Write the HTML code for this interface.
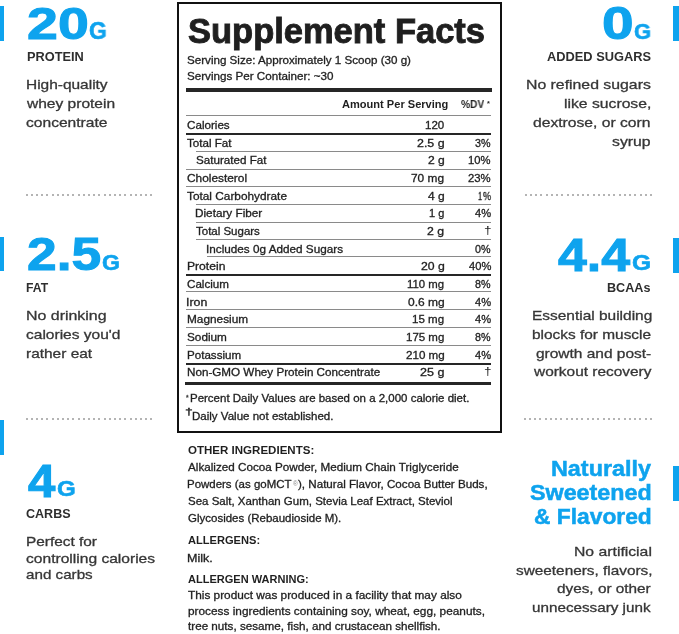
<!DOCTYPE html>
<html><head><meta charset="utf-8"><title>Supplement Facts</title>
<style>
html,body{margin:0;padding:0;background:#fff;}
body{width:679px;height:634px;position:relative;overflow:hidden;font-family:"Liberation Sans", Arial, sans-serif;}
.t{position:absolute;white-space:nowrap;transform-origin:0 0;will-change:transform;}
.s{-webkit-text-stroke:0.3px currentColor;}
.r{position:absolute;}
.d{position:absolute;width:2px;height:2px;background:#b4b4b4;}
</style></head><body>
<div class="t" style="left:26.88px;top:0.80px;font-size:45.08px;line-height:45.08px;color:#0ea3ee;font-weight:bold;-webkit-text-stroke:1.0px #0ea3ee;transform:scaleX(1.2316);">20</div>
<div class="t" style="left:88.61px;top:20.10px;font-size:23.51px;line-height:23.51px;color:#0ea3ee;font-weight:bold;-webkit-text-stroke:0.6px #0ea3ee;transform:scaleX(0.9759);">G</div>
<div class="t" style="left:26.56px;top:50.70px;font-size:12.2px;line-height:12.2px;color:#2e2e2e;font-weight:bold;transform:scaleX(1.0491);">PROTEIN</div>
<div class="t s" style="left:25.94px;top:78.40px;font-size:13.3px;line-height:13.3px;color:#363636;transform:scaleX(1.1620);">High-quality</div>
<div class="t s" style="left:27.12px;top:96.60px;font-size:13.3px;line-height:13.3px;color:#363636;transform:scaleX(1.1685);">whey protein</div>
<div class="t s" style="left:26.01px;top:115.70px;font-size:13.3px;line-height:13.3px;color:#363636;transform:scaleX(1.1722);">concentrate</div>
<div class="t" style="left:26.91px;top:232.18px;font-size:45.91px;line-height:45.91px;color:#0ea3ee;font-weight:bold;-webkit-text-stroke:1.0px #0ea3ee;transform:scaleX(1.1632);">2.5</div>
<div class="t" style="left:102.08px;top:251.90px;font-size:22.53px;line-height:22.53px;color:#0ea3ee;font-weight:bold;-webkit-text-stroke:0.6px #0ea3ee;transform:scaleX(1.0252);">G</div>
<div class="t" style="left:26.20px;top:282.20px;font-size:12.2px;line-height:12.2px;color:#2e2e2e;font-weight:bold;">FAT</div>
<div class="t s" style="left:25.80px;top:308.80px;font-size:13.3px;line-height:13.3px;color:#363636;transform:scaleX(1.1974);">No drinking</div>
<div class="t s" style="left:26.42px;top:327.90px;font-size:13.3px;line-height:13.3px;color:#363636;transform:scaleX(1.1670);">calories you'd</div>
<div class="t s" style="left:26.07px;top:347.00px;font-size:13.3px;line-height:13.3px;color:#363636;transform:scaleX(1.1618);">rather eat</div>
<div class="t" style="left:28.33px;top:457.50px;font-size:46.65px;line-height:46.65px;color:#0ea3ee;font-weight:bold;-webkit-text-stroke:1.0px #0ea3ee;transform:scaleX(1.0536);">4</div>
<div class="t" style="left:57.06px;top:477.70px;font-size:22.53px;line-height:22.53px;color:#0ea3ee;font-weight:bold;-webkit-text-stroke:0.6px #0ea3ee;transform:scaleX(1.0692);">G</div>
<div class="t" style="left:26.49px;top:508.10px;font-size:12.2px;line-height:12.2px;color:#2e2e2e;font-weight:bold;transform:scaleX(1.0296);">CARBS</div>
<div class="t s" style="left:25.84px;top:535.10px;font-size:13.3px;line-height:13.3px;color:#363636;transform:scaleX(1.1574);">Perfect for</div>
<div class="t s" style="left:26.41px;top:551.50px;font-size:13.3px;line-height:13.3px;color:#363636;transform:scaleX(1.1722);">controlling calories</div>
<div class="t s" style="left:26.43px;top:567.50px;font-size:13.3px;line-height:13.3px;color:#363636;transform:scaleX(1.1417);">and carbs</div>
<div class="t" style="left:602.04px;top:0.58px;font-size:45.91px;line-height:45.91px;color:#0ea3ee;font-weight:bold;-webkit-text-stroke:1.0px #0ea3ee;transform:scaleX(1.2394);">0</div>
<div class="t" style="left:633.53px;top:20.20px;font-size:22.95px;line-height:22.95px;color:#0ea3ee;font-weight:bold;-webkit-text-stroke:0.6px #0ea3ee;transform:scaleX(0.9568);">G</div>
<div class="t" style="left:546.58px;top:51.40px;font-size:12.2px;line-height:12.2px;color:#2e2e2e;font-weight:bold;transform:scaleX(1.0516);">ADDED SUGARS</div>
<div class="t s" style="left:526.01px;top:78.00px;font-size:13.3px;line-height:13.3px;color:#363636;transform:scaleX(1.1891);">No refined sugars</div>
<div class="t s" style="left:564.05px;top:97.10px;font-size:13.3px;line-height:13.3px;color:#363636;transform:scaleX(1.1818);">like sucrose,</div>
<div class="t s" style="left:533.41px;top:116.30px;font-size:13.3px;line-height:13.3px;color:#363636;transform:scaleX(1.1777);">dextrose, or corn</div>
<div class="t s" style="left:612.04px;top:135.00px;font-size:13.3px;line-height:13.3px;color:#363636;transform:scaleX(1.1852);">syrup</div>
<div class="t" style="left:558.26px;top:231.70px;font-size:46.08px;line-height:46.08px;color:#0ea3ee;font-weight:bold;-webkit-text-stroke:1.0px #0ea3ee;transform:scaleX(1.1262);">4.4</div>
<div class="t" style="left:632.33px;top:251.70px;font-size:21.97px;line-height:21.97px;color:#0ea3ee;font-weight:bold;-webkit-text-stroke:0.6px #0ea3ee;transform:scaleX(1.1161);">G</div>
<div class="t" style="left:607.37px;top:281.90px;font-size:12.2px;line-height:12.2px;color:#2e2e2e;font-weight:bold;transform:scaleX(1.0333);">BCAAs</div>
<div class="t s" style="left:531.64px;top:309.00px;font-size:13.3px;line-height:13.3px;color:#363636;transform:scaleX(1.1621);">Essential building</div>
<div class="t s" style="left:532.47px;top:328.20px;font-size:13.3px;line-height:13.3px;color:#363636;transform:scaleX(1.1593);">blocks for muscle</div>
<div class="t s" style="left:536.32px;top:346.90px;font-size:13.3px;line-height:13.3px;color:#363636;transform:scaleX(1.1638);">growth and post-</div>
<div class="t s" style="left:533.52px;top:365.30px;font-size:13.3px;line-height:13.3px;color:#363636;transform:scaleX(1.1596);">workout recovery</div>
<div class="t" style="left:550.77px;top:458.15px;font-size:21.8px;line-height:21.8px;color:#0ea3ee;font-weight:bold;-webkit-text-stroke:0.5px #0ea3ee;transform:scaleX(1.0718);">Naturally</div>
<div class="t" style="left:529.93px;top:482.25px;font-size:21.8px;line-height:21.8px;color:#0ea3ee;font-weight:bold;-webkit-text-stroke:0.5px #0ea3ee;transform:scaleX(1.0679);">Sweetened</div>
<div class="t" style="left:533.72px;top:506.35px;font-size:21.8px;line-height:21.8px;color:#0ea3ee;font-weight:bold;-webkit-text-stroke:0.5px #0ea3ee;transform:scaleX(1.0456);">&amp; Flavored</div>
<div class="t s" style="left:574.12px;top:545.00px;font-size:13.3px;line-height:13.3px;color:#363636;transform:scaleX(1.1842);">No artificial</div>
<div class="t s" style="left:515.85px;top:563.60px;font-size:13.3px;line-height:13.3px;color:#363636;transform:scaleX(1.1543);">sweeteners, flavors,</div>
<div class="t s" style="left:557.42px;top:582.40px;font-size:13.3px;line-height:13.3px;color:#363636;transform:scaleX(1.1526);">dyes, or other</div>
<div class="t s" style="left:532.38px;top:601.30px;font-size:13.3px;line-height:13.3px;color:#363636;transform:scaleX(1.1455);">unnecessary junk</div>
<div class="t" style="left:188.41px;top:13.55px;font-size:34.3px;line-height:34.3px;color:#1f1f1f;font-weight:bold;-webkit-text-stroke:0.9px #1f1f1f;transform:scaleX(1.0055);">Supplement Facts</div>
<div class="t s" style="left:186.56px;top:54.60px;font-size:10.5px;line-height:10.5px;color:#1f1f1f;transform:scaleX(1.1059);">Serving Size: Approximately 1 Scoop (30 g)</div>
<div class="t s" style="left:186.56px;top:71.20px;font-size:10.5px;line-height:10.5px;color:#1f1f1f;transform:scaleX(1.1083);">Servings Per Container: ~30</div>
<div class="t" style="left:342.29px;top:99.00px;font-size:10.5px;line-height:10.5px;color:#1f1f1f;font-weight:bold;transform:scaleX(1.0537);">Amount Per Serving</div>
<div class="t" style="left:461.31px;top:99.00px;font-size:10.5px;line-height:10.5px;color:#1f1f1f;font-weight:bold;transform:scaleX(0.9697);">%DV</div>
<div class="t" style="left:487.10px;top:99.70px;font-size:7.35px;line-height:7.35px;color:#1f1f1f;font-weight:bold;">*</div>
<div class="t s" style="left:186.95px;top:120.10px;font-size:10.5px;line-height:10.5px;color:#1f1f1f;transform:scaleX(1.1085);">Calories</div>
<div class="t s" style="left:424.87px;top:120.10px;font-size:10.5px;line-height:10.5px;color:#1f1f1f;transform:scaleX(1.0990);">120</div>
<div class="t s" style="left:187.28px;top:137.75px;font-size:10.5px;line-height:10.5px;color:#1f1f1f;transform:scaleX(1.1049);">Total Fat</div>
<div class="t s" style="left:416.91px;top:137.75px;font-size:10.5px;line-height:10.5px;color:#1f1f1f;transform:scaleX(1.1817);">2.5 g</div>
<div class="t s" style="left:475.34px;top:137.75px;font-size:10.5px;line-height:10.5px;color:#1f1f1f;transform:scaleX(1.0215);">3%</div>
<div class="t s" style="left:195.81px;top:155.40px;font-size:10.5px;line-height:10.5px;color:#1f1f1f;transform:scaleX(1.1075);">Saturated Fat</div>
<div class="t s" style="left:427.67px;top:155.40px;font-size:10.5px;line-height:10.5px;color:#1f1f1f;transform:scaleX(1.1518);">2 g</div>
<div class="t s" style="left:468.39px;top:155.40px;font-size:10.5px;line-height:10.5px;color:#1f1f1f;transform:scaleX(1.0690);">10%</div>
<div class="t s" style="left:186.93px;top:173.05px;font-size:10.5px;line-height:10.5px;color:#1f1f1f;transform:scaleX(1.1303);">Cholesterol</div>
<div class="t s" style="left:411.43px;top:173.05px;font-size:10.5px;line-height:10.5px;color:#1f1f1f;transform:scaleX(1.1322);">70 mg</div>
<div class="t s" style="left:468.21px;top:173.05px;font-size:10.5px;line-height:10.5px;color:#1f1f1f;transform:scaleX(1.0778);">23%</div>
<div class="t s" style="left:187.27px;top:190.70px;font-size:10.5px;line-height:10.5px;color:#1f1f1f;transform:scaleX(1.1269);">Total Carbohydrate</div>
<div class="t s" style="left:427.77px;top:190.70px;font-size:10.5px;line-height:10.5px;color:#1f1f1f;transform:scaleX(1.1449);">4 g</div>
<div class="t s" style="left:478.04px;top:190.70px;font-size:10.5px;line-height:10.5px;color:#1f1f1f;transform:scaleX(0.6957);">1</div>
<div class="t s" style="left:483.04px;top:190.70px;font-size:10.5px;line-height:10.5px;color:#1f1f1f;transform:scaleX(0.8621);">%</div>
<div class="t s" style="left:195.35px;top:208.35px;font-size:10.5px;line-height:10.5px;color:#1f1f1f;transform:scaleX(1.1191);">Dietary Fiber</div>
<div class="t s" style="left:429.16px;top:208.35px;font-size:10.5px;line-height:10.5px;color:#1f1f1f;transform:scaleX(1.0451);">1 g</div>
<div class="t s" style="left:474.79px;top:208.35px;font-size:10.5px;line-height:10.5px;color:#1f1f1f;transform:scaleX(1.0588);">4%</div>
<div class="t s" style="left:196.03px;top:226.00px;font-size:10.5px;line-height:10.5px;color:#1f1f1f;transform:scaleX(1.0940);">Total Sugars</div>
<div class="t s" style="left:427.41px;top:226.00px;font-size:10.5px;line-height:10.5px;color:#1f1f1f;transform:scaleX(1.1704);">2 g</div>
<div class="t" style="left:484.48px;top:225.70px;font-size:10.0px;line-height:10.0px;color:#1f1f1f;transform:scaleX(1.3721);">†</div>
<div class="t s" style="left:206.49px;top:243.65px;font-size:10.5px;line-height:10.5px;color:#1f1f1f;transform:scaleX(1.1175);">Includes 0g Added Sugars</div>
<div class="t s" style="left:475.34px;top:243.65px;font-size:10.5px;line-height:10.5px;color:#1f1f1f;transform:scaleX(1.0215);">0%</div>
<div class="t s" style="left:186.58px;top:261.30px;font-size:10.5px;line-height:10.5px;color:#1f1f1f;transform:scaleX(1.1546);">Protein</div>
<div class="t s" style="left:420.67px;top:261.30px;font-size:10.5px;line-height:10.5px;color:#1f1f1f;transform:scaleX(1.1660);">20 g</div>
<div class="t s" style="left:468.54px;top:261.30px;font-size:10.5px;line-height:10.5px;color:#1f1f1f;transform:scaleX(1.0621);">40%</div>
<div class="t s" style="left:186.95px;top:278.95px;font-size:10.5px;line-height:10.5px;color:#1f1f1f;transform:scaleX(1.1080);">Calcium</div>
<div class="t s" style="left:407.38px;top:278.95px;font-size:10.5px;line-height:10.5px;color:#1f1f1f;transform:scaleX(1.0822);">110 mg</div>
<div class="t s" style="left:475.34px;top:278.95px;font-size:10.5px;line-height:10.5px;color:#1f1f1f;transform:scaleX(1.0215);">8%</div>
<div class="t s" style="left:186.44px;top:296.60px;font-size:10.5px;line-height:10.5px;color:#1f1f1f;transform:scaleX(1.1780);">Iron</div>
<div class="t s" style="left:407.79px;top:296.60px;font-size:10.5px;line-height:10.5px;color:#1f1f1f;transform:scaleX(1.1429);">0.6 mg</div>
<div class="t s" style="left:474.79px;top:296.60px;font-size:10.5px;line-height:10.5px;color:#1f1f1f;transform:scaleX(1.0588);">4%</div>
<div class="t s" style="left:186.60px;top:314.25px;font-size:10.5px;line-height:10.5px;color:#1f1f1f;transform:scaleX(1.1263);">Magnesium</div>
<div class="t s" style="left:412.37px;top:314.25px;font-size:10.5px;line-height:10.5px;color:#1f1f1f;transform:scaleX(1.0994);">15 mg</div>
<div class="t s" style="left:474.79px;top:314.25px;font-size:10.5px;line-height:10.5px;color:#1f1f1f;transform:scaleX(1.0588);">4%</div>
<div class="t s" style="left:187.05px;top:331.90px;font-size:10.5px;line-height:10.5px;color:#1f1f1f;transform:scaleX(1.1214);">Sodium</div>
<div class="t s" style="left:406.12px;top:331.90px;font-size:10.5px;line-height:10.5px;color:#1f1f1f;transform:scaleX(1.0943);">175 mg</div>
<div class="t s" style="left:475.34px;top:331.90px;font-size:10.5px;line-height:10.5px;color:#1f1f1f;transform:scaleX(1.0215);">8%</div>
<div class="t s" style="left:186.62px;top:349.55px;font-size:10.5px;line-height:10.5px;color:#1f1f1f;transform:scaleX(1.1036);">Potassium</div>
<div class="t s" style="left:405.70px;top:349.55px;font-size:10.5px;line-height:10.5px;color:#1f1f1f;transform:scaleX(1.1068);">210 mg</div>
<div class="t s" style="left:474.79px;top:349.55px;font-size:10.5px;line-height:10.5px;color:#1f1f1f;transform:scaleX(1.0588);">4%</div>
<div class="t s" style="left:186.61px;top:367.20px;font-size:10.5px;line-height:10.5px;color:#1f1f1f;transform:scaleX(1.1106);">Non-GMO Whey Protein Concentrate</div>
<div class="t s" style="left:420.15px;top:367.20px;font-size:10.5px;line-height:10.5px;color:#1f1f1f;transform:scaleX(1.1919);">25 g</div>
<div class="t" style="left:484.48px;top:366.90px;font-size:10.0px;line-height:10.0px;color:#1f1f1f;transform:scaleX(1.3721);">†</div>
<div class="t s" style="left:185.92px;top:394.40px;font-size:7.74px;line-height:7.74px;color:#1f1f1f;transform:scaleX(0.8214);">*</div>
<div class="t s" style="left:189.63px;top:393.40px;font-size:10.5px;line-height:10.5px;color:#1f1f1f;transform:scaleX(1.0936);">Percent Daily Values are based on a 2,000 calorie diet.</div>
<div class="t s" style="left:185.08px;top:407.90px;font-size:9.12px;line-height:9.12px;color:#1f1f1f;transform:scaleX(1.5385);">†</div>
<div class="t s" style="left:191.82px;top:410.70px;font-size:10.5px;line-height:10.5px;color:#1f1f1f;transform:scaleX(1.0985);">Daily Value not established.</div>
<div class="t" style="left:188.07px;top:445.10px;font-size:10.7px;line-height:10.7px;color:#1f1f1f;font-weight:bold;transform:scaleX(1.0791);">OTHER INGREDIENTS:</div>
<div class="t s" style="left:188.30px;top:462.10px;font-size:10.7px;line-height:10.7px;color:#1f1f1f;transform:scaleX(1.0927);">Alkalized Cocoa Powder, Medium Chain Triglyceride</div>
<div class="t s" style="left:187.44px;top:479.20px;font-size:10.7px;line-height:10.7px;color:#1f1f1f;transform:scaleX(1.0727);">Powders (as goMCT</div>
<div class="t" style="left:292.50px;top:480.70px;font-size:6.48px;line-height:6.48px;color:#8a8a8a;transform:scaleX(0.9787);">®</div>
<div class="t s" style="left:298.40px;top:479.20px;font-size:10.7px;line-height:10.7px;color:#1f1f1f;transform:scaleX(1.0858);">), Natural Flavor, Cocoa Butter Buds,</div>
<div class="t s" style="left:187.87px;top:496.00px;font-size:10.7px;line-height:10.7px;color:#1f1f1f;transform:scaleX(1.0757);">Sea Salt, Xanthan Gum, Stevia Leaf Extract, Steviol</div>
<div class="t s" style="left:187.76px;top:512.90px;font-size:10.7px;line-height:10.7px;color:#1f1f1f;transform:scaleX(1.0754);">Glycosides (Rebaudioside M).</div>
<div class="t" style="left:188.29px;top:535.30px;font-size:10.7px;line-height:10.7px;color:#1f1f1f;font-weight:bold;transform:scaleX(1.0382);">ALLERGENS:</div>
<div class="t s" style="left:187.36px;top:552.50px;font-size:10.7px;line-height:10.7px;color:#1f1f1f;transform:scaleX(1.1722);">Milk.</div>
<div class="t" style="left:188.29px;top:574.30px;font-size:10.7px;line-height:10.7px;color:#1f1f1f;font-weight:bold;transform:scaleX(1.0325);">ALLERGEN WARNING:</div>
<div class="t s" style="left:188.08px;top:589.90px;font-size:10.7px;line-height:10.7px;color:#1f1f1f;transform:scaleX(1.1053);">This product was produced in a facility that may also</div>
<div class="t s" style="left:187.64px;top:605.60px;font-size:10.7px;line-height:10.7px;color:#1f1f1f;transform:scaleX(1.1067);">process ingredients containing soy, wheat, egg, peanuts,</div>
<div class="t s" style="left:188.19px;top:621.20px;font-size:10.7px;line-height:10.7px;color:#1f1f1f;transform:scaleX(1.0930);">tree nuts, sesame, fish, and crustacean shellfish.</div>
<div class="r" style="left:0px;top:6px;width:4px;height:35px;background:#0ea3ee"></div>
<div class="r" style="left:0px;top:237px;width:4px;height:34px;background:#0ea3ee"></div>
<div class="r" style="left:0px;top:420px;width:4px;height:35px;background:#0ea3ee"></div>
<div class="r" style="left:673px;top:6px;width:6px;height:35px;background:#0ea3ee"></div>
<div class="r" style="left:673px;top:238px;width:6px;height:35px;background:#0ea3ee"></div>
<div class="r" style="left:673px;top:466px;width:6px;height:35px;background:#0ea3ee"></div>
<div class="r" style="left:177px;top:2px;width:325px;height:2px;background:#111"></div>
<div class="r" style="left:177px;top:431px;width:325px;height:2px;background:#111"></div>
<div class="r" style="left:177px;top:2px;width:2px;height:431px;background:#111"></div>
<div class="r" style="left:500px;top:2px;width:2px;height:431px;background:#111"></div>
<div class="r" style="left:186px;top:88px;width:306px;height:4px;background:#262626"></div>
<div class="r" style="left:186px;top:115px;width:305px;height:1px;background:#8a8a8a"></div>
<div class="r" style="left:186px;top:133px;width:305px;height:2px;background:#262626"></div>
<div class="r" style="left:196px;top:151px;width:295px;height:1px;background:#8a8a8a"></div>
<div class="r" style="left:186px;top:169px;width:305px;height:1px;background:#8a8a8a"></div>
<div class="r" style="left:186px;top:186px;width:305px;height:1px;background:#8a8a8a"></div>
<div class="r" style="left:196px;top:204px;width:295px;height:1px;background:#8a8a8a"></div>
<div class="r" style="left:196px;top:222px;width:295px;height:1px;background:#8a8a8a"></div>
<div class="r" style="left:196px;top:239px;width:295px;height:1px;background:#8a8a8a"></div>
<div class="r" style="left:207px;top:256px;width:284px;height:1px;background:#8a8a8a"></div>
<div class="r" style="left:186px;top:274px;width:305px;height:2px;background:#262626"></div>
<div class="r" style="left:186px;top:291px;width:305px;height:1px;background:#8a8a8a"></div>
<div class="r" style="left:186px;top:309px;width:305px;height:1px;background:#8a8a8a"></div>
<div class="r" style="left:186px;top:327px;width:305px;height:1px;background:#8a8a8a"></div>
<div class="r" style="left:186px;top:345px;width:305px;height:1px;background:#8a8a8a"></div>
<div class="r" style="left:186px;top:363px;width:305px;height:2px;background:#262626"></div>
<div class="r" style="left:185px;top:382px;width:306px;height:3px;background:#262626"></div>
<div class="d" style="left:26px;top:194px"></div>
<div class="d" style="left:31px;top:194px"></div>
<div class="d" style="left:36px;top:194px"></div>
<div class="d" style="left:41px;top:194px"></div>
<div class="d" style="left:46px;top:194px"></div>
<div class="d" style="left:52px;top:194px"></div>
<div class="d" style="left:57px;top:194px"></div>
<div class="d" style="left:62px;top:194px"></div>
<div class="d" style="left:67px;top:194px"></div>
<div class="d" style="left:72px;top:194px"></div>
<div class="d" style="left:78px;top:194px"></div>
<div class="d" style="left:83px;top:194px"></div>
<div class="d" style="left:88px;top:194px"></div>
<div class="d" style="left:93px;top:194px"></div>
<div class="d" style="left:98px;top:194px"></div>
<div class="d" style="left:104px;top:194px"></div>
<div class="d" style="left:109px;top:194px"></div>
<div class="d" style="left:114px;top:194px"></div>
<div class="d" style="left:119px;top:194px"></div>
<div class="d" style="left:124px;top:194px"></div>
<div class="d" style="left:130px;top:194px"></div>
<div class="d" style="left:135px;top:194px"></div>
<div class="d" style="left:140px;top:194px"></div>
<div class="d" style="left:145px;top:194px"></div>
<div class="d" style="left:150px;top:194px"></div>
<div class="d" style="left:26px;top:418px"></div>
<div class="d" style="left:31px;top:418px"></div>
<div class="d" style="left:36px;top:418px"></div>
<div class="d" style="left:41px;top:418px"></div>
<div class="d" style="left:46px;top:418px"></div>
<div class="d" style="left:52px;top:418px"></div>
<div class="d" style="left:57px;top:418px"></div>
<div class="d" style="left:62px;top:418px"></div>
<div class="d" style="left:67px;top:418px"></div>
<div class="d" style="left:72px;top:418px"></div>
<div class="d" style="left:78px;top:418px"></div>
<div class="d" style="left:83px;top:418px"></div>
<div class="d" style="left:88px;top:418px"></div>
<div class="d" style="left:93px;top:418px"></div>
<div class="d" style="left:98px;top:418px"></div>
<div class="d" style="left:104px;top:418px"></div>
<div class="d" style="left:109px;top:418px"></div>
<div class="d" style="left:114px;top:418px"></div>
<div class="d" style="left:119px;top:418px"></div>
<div class="d" style="left:124px;top:418px"></div>
<div class="d" style="left:130px;top:418px"></div>
<div class="d" style="left:135px;top:418px"></div>
<div class="d" style="left:140px;top:418px"></div>
<div class="d" style="left:145px;top:418px"></div>
<div class="d" style="left:150px;top:418px"></div>
<div class="d" style="left:525px;top:194px"></div>
<div class="d" style="left:530px;top:194px"></div>
<div class="d" style="left:535px;top:194px"></div>
<div class="d" style="left:540px;top:194px"></div>
<div class="d" style="left:546px;top:194px"></div>
<div class="d" style="left:551px;top:194px"></div>
<div class="d" style="left:556px;top:194px"></div>
<div class="d" style="left:561px;top:194px"></div>
<div class="d" style="left:567px;top:194px"></div>
<div class="d" style="left:572px;top:194px"></div>
<div class="d" style="left:577px;top:194px"></div>
<div class="d" style="left:582px;top:194px"></div>
<div class="d" style="left:587px;top:194px"></div>
<div class="d" style="left:593px;top:194px"></div>
<div class="d" style="left:598px;top:194px"></div>
<div class="d" style="left:603px;top:194px"></div>
<div class="d" style="left:608px;top:194px"></div>
<div class="d" style="left:613px;top:194px"></div>
<div class="d" style="left:619px;top:194px"></div>
<div class="d" style="left:624px;top:194px"></div>
<div class="d" style="left:629px;top:194px"></div>
<div class="d" style="left:634px;top:194px"></div>
<div class="d" style="left:640px;top:194px"></div>
<div class="d" style="left:645px;top:194px"></div>
<div class="d" style="left:650px;top:194px"></div>
<div class="d" style="left:524px;top:418px"></div>
<div class="d" style="left:529px;top:418px"></div>
<div class="d" style="left:534px;top:418px"></div>
<div class="d" style="left:539px;top:418px"></div>
<div class="d" style="left:545px;top:418px"></div>
<div class="d" style="left:550px;top:418px"></div>
<div class="d" style="left:555px;top:418px"></div>
<div class="d" style="left:560px;top:418px"></div>
<div class="d" style="left:566px;top:418px"></div>
<div class="d" style="left:571px;top:418px"></div>
<div class="d" style="left:576px;top:418px"></div>
<div class="d" style="left:581px;top:418px"></div>
<div class="d" style="left:587px;top:418px"></div>
<div class="d" style="left:592px;top:418px"></div>
<div class="d" style="left:597px;top:418px"></div>
<div class="d" style="left:603px;top:418px"></div>
<div class="d" style="left:608px;top:418px"></div>
<div class="d" style="left:613px;top:418px"></div>
<div class="d" style="left:618px;top:418px"></div>
<div class="d" style="left:624px;top:418px"></div>
<div class="d" style="left:629px;top:418px"></div>
<div class="d" style="left:634px;top:418px"></div>
<div class="d" style="left:639px;top:418px"></div>
<div class="d" style="left:645px;top:418px"></div>
<div class="d" style="left:650px;top:418px"></div>
</body></html>
